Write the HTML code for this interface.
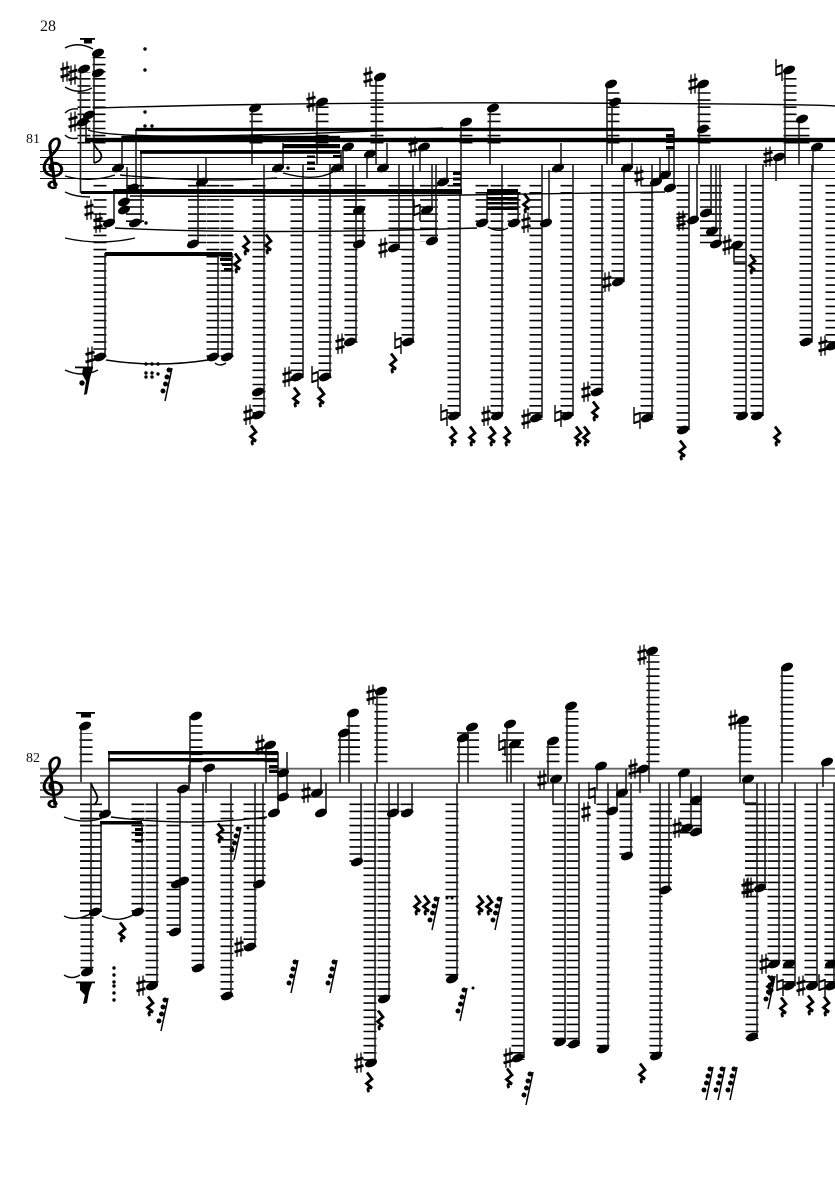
<!DOCTYPE html>
<html><head><meta charset="utf-8"><style>
html,body{margin:0;padding:0;background:#fff;width:835px;height:1181px;overflow:hidden}
svg{display:block}
.st{fill:none;stroke:#222;stroke-width:1.6}
.l,.w,.m{fill:none;stroke:#000;stroke-dasharray:1.6 5.5}
.l{stroke-width:13}.w{stroke-width:22}.m{stroke-width:18}
.sl{fill:none;stroke:#000;stroke-width:1.4}
text{font-family:"Liberation Serif",serif;fill:#111}
</style></head><body>
<svg width="835" height="1181" viewBox="0 0 835 1181" xmlns="http://www.w3.org/2000/svg">
<defs>
<ellipse id="n" cx="0" cy="0" rx="6.3" ry="3.9" transform="rotate(-22)" fill="#000"/>
<g id="s" stroke="#000" fill="none"><path d="M-2-9.500V10M2-10.500V9.500" stroke-width="1.3"/><path d="M-4.500-2.500L4.500-5M-4.500 5L4.500 2.500" stroke-width="2.800"/></g>
<g id="h" stroke="#000" fill="none"><path d="M-3-11V6M3-6V11" stroke-width="1.400"/><path d="M-3-3L3-5M-3 5L3 3" stroke-width="2.200"/></g>
<path id="r" d="M-2-9.500L3-3L-2.500 1.500L3 6C-1 5-2 7 0 10" fill="none" stroke="#000" stroke-width="2.800"/>
<g id="g" fill="#000"><path d="M0 0L-7 33" stroke="#000" stroke-width="1.500"/><circle cx="-3" cy="2" r="2.500"/><circle cx="-5" cy="9" r="2.500"/><circle cx="-6.500" cy="16" r="2.500"/><circle cx="-9" cy="23" r="2.500"/></g>
<path id="c" d="M11 49C7 52 3 47 7 44C10 43 12 47 10 48M10 48L6 8C6 3 11-2 13 2C15 9 8 16 4 22C0 28 1 37 9 38C17 38 17 26 10 25C5 25 5 32 9 34" fill="none" stroke="#000" stroke-width="2.400"/>
</defs>
<text x="40" y="31" font-size="16">28</text>
<text x="26" y="143" font-size="14">81</text>
<text x="26" y="762" font-size="14">82</text>
<!-- staves -->
<path d="M40 150.500H835M40 157.500H835M40 164.500H835M40 171.500H835M40 178.500H835" stroke="#111" stroke-width="1.100" fill="none"/>
<path d="M40 768.700H835M40 775.800H835M40 782.900H835M40 790H835M40 797.100H835" stroke="#666" stroke-width="1.900" fill="none"/>
<use href="#c" transform="translate(42,138) scale(1.300,1)"/><use href="#c" transform="translate(42,757) scale(1.300,1)"/>
<!-- ledgers system 1 -->
<path class="l" d="M100 184.900V359M213 184.900V359M227 184.900V359M259 184.900V417M297 184.900V379M325 184.900V379M351 184.900V344M395 184.900V250M408 184.900V344M454 184.900V418M482 184.900V225M497 184.900V418M514 184.900V225M536 184.900V420M567 184.900V418M597 184.900V394M618 184.900V284M647 184.900V420M683 184.900V432M740 184.900V418M757 184.900V418M806 184.900V344M832 184.900V348
M84 143.500V72M99 143.500V57M256 143.500V112M322 143.500V106M377 143.500V81M466 143.500V126M494 143.500V112M613 143.500V88M704 143.500V88M790 143.500V74M803 143.500V123"/>
<path class="m" d="M135 184.900V225M197 184.900V246M429 184.900V242"/>
<path class="w" d="M354.500 184.900V246M711 184.900V246"/>
<!-- ledgers system 2 -->
<path class="l" d="M87 803.500V974M138 803.500V914M152 803.500V988M173 803.500V934M198 803.500V970M227 803.500V998M250 803.500V949M259 803.500V886M356 803.500V864M370 803.500V1065M384 803.500V1001M393 803.500V815M407 803.500V815M452 803.500V981M518 803.500V1060M559 803.500V1044M573 803.500V1046M603 803.500V1051M626 803.500V858M656 803.500V1058M752 803.500V1039M774 803.500V966M789 803.500V988M811 803.500V988M831 803.500V988
M86 762.200V733M196 762.200V723M271 762.200V750M353 762.200V720M381 762.200V695M553 762.200V745M572 762.200V710M653 762.200V655M745 762.200V725M787 762.200V672"/>
<path class="w" d="M91 803.500V914M661 803.500V892M691 803.500V834M756 803.500V890M349 762.200V733M468 762.200V732M513 762.200V728"/>
<!-- stems -->
<path class="st" d="M105 253V355M218 253V355M232 253V355M136 129V188M141 152V223M122 136V168M127 167V200M114 190V223M80.500 73V193M86 118V141M94 53V163M198 165V244M206 158V182M252 108V164M264 165V413M283 143V168M303 165V377M330 165V377M317 102V164M376 77V164M343 147V171M341 150V168M367 154V178M387 143V168M420 147V171M447 158V182M432 165V210M436 165V241M461 122V192M490 108V164M561 143V168M356 165V342M363 210V244M399 165V248M413 165V342M460 192V416M487 193V223M502 165V416M518 193V223M549 170V223M542 165V418M573 165V416M602 165V392M624 165V282M652 165V418M689 165V430M632 143V168M660 158V182M669 150V175M674 129V188M607 84V164M612 102V164M697 165V220M711 165V213M716 165V231M720 165V244M699 84V164M734 245V262H746M746 165V416M763 165V416M785 70V164M799 119V164M813 147V171M776 157V181M812 165V342
M81 726V782M109 752V814M91 783V972M101 823V912M142 823V910M157 783V986M189 765V789M190 716V783M180 790V932M203 782V968M206 768V793M231 783V996M255 783V947M263 783V884M266 745V783M287 752V797M278 752V813M321 769V793M326 783V813M340 733V783M349 713V783M361 783V862M375 783V1063M389 783V999M398 783V813M412 783V813M377 691V783M459 738V783M468 727V783M457 783V979M507 724V783M511 744V783M524 783V1058M548 741V783M553 779V804H565M565 783V1042M567 706V783M579 783V1044M597 766V790M608 783V1049M617 783V811M626 769V793M631 783V856M640 769V793M649 651V783M660 783V1056M669 783V890M680 773V798M691 783V828M701 776V832M740 720V783M744 779V803H756M757 783V1037M765 783V888M782 667V783M779 783V964M795 783V986M817 783V986M823 762V787M834 783V986"/>
<!-- flags -->
<path d="M94 144C96 150 103 152 101 158C100 161 97 162 94 163M91 783C93 790 99 795 97 801C96 803 95 804 94 805" fill="none" stroke="#000" stroke-width="1.800"/>
<!-- beams -->
<g fill="#000">
<rect x="136" y="127.800" width="538" height="3.400"/>
<rect x="85" y="137.800" width="750" height="4.400"/>
<rect x="122" y="135.800" width="218" height="3.500"/>
<rect x="140" y="150" width="200" height="3.800"/>
<rect x="283" y="144" width="57" height="4.200"/>
<rect x="81" y="191" width="32" height="3"/>
<rect x="113" y="189" width="349" height="5"/>
<rect x="487" y="189" width="31" height="5.500"/>
<rect x="487" y="197" width="31" height="3.500"/>
<rect x="487" y="202" width="31" height="2.500"/>
<rect x="487" y="206.500" width="31" height="3.500"/>
<rect x="307" y="155.500" width="8" height="2.500"/><rect x="307" y="161.500" width="8" height="2.500"/><rect x="307" y="167.500" width="8" height="2.500"/>
<rect x="333" y="155" width="8" height="3"/>
<rect x="453" y="172" width="8" height="3"/><rect x="453" y="177.500" width="8" height="3"/><rect x="453" y="183" width="8" height="3"/>
<rect x="666" y="134" width="8" height="3.500"/><rect x="666" y="140" width="8" height="3"/><rect x="666" y="146" width="8" height="3.500"/>
<rect x="105" y="252" width="127" height="4"/>
<rect x="220" y="258" width="12" height="3"/><rect x="222" y="263" width="10" height="3"/><rect x="224" y="268" width="8" height="3.500"/>
<rect x="80" y="38" width="15" height="1.800"/><rect x="84" y="39" width="8" height="4.500"/>
<rect x="76" y="712" width="19" height="1.800"/><rect x="81" y="713" width="10" height="4.500"/>
<rect x="108" y="751" width="170" height="3.500"/>
<rect x="108" y="758" width="170" height="3.500"/>
<rect x="269" y="765" width="9" height="3"/><rect x="269" y="770" width="9" height="3"/>
<rect x="100" y="821" width="42" height="3.500"/>
<rect x="135" y="828" width="8" height="3"/><rect x="135" y="833" width="8" height="3"/><rect x="135" y="839" width="8" height="3.500"/>
<rect x="76" y="981.500" width="19" height="1.800"/><path d="M80 983H92L89 992L87 1003L83 1004L85 995L80 990Z"/>
<path d="M83 368H93L90 378L87 394L84 395L86 381L82 374Z"/><rect x="75" y="366.500" width="18" height="1.800"/>
<circle cx="82" cy="383" r="2.700"/>
<!-- dots -->
<circle cx="145" cy="49" r="1.700"/><circle cx="145" cy="70" r="1.700"/><circle cx="145" cy="112" r="1.700"/><circle cx="145" cy="126" r="1.700"/><circle cx="152" cy="126" r="1.700"/>
<circle cx="288" cy="168" r="1.700"/><circle cx="146" cy="223" r="1.700"/>
<circle cx="146" cy="364" r="1.700"/><circle cx="152" cy="364" r="1.700"/><circle cx="158" cy="364" r="1.700"/>
<circle cx="146" cy="373" r="1.700"/><circle cx="146" cy="377" r="1.700"/><circle cx="152" cy="373" r="1.700"/><circle cx="152" cy="377" r="1.700"/><circle cx="158" cy="374" r="1.700"/>
<circle cx="114" cy="968" r="1.700"/><circle cx="114" cy="975" r="1.700"/><circle cx="114" cy="982" r="1.700"/><circle cx="114" cy="986" r="1.700"/><circle cx="114" cy="993" r="1.700"/><circle cx="114" cy="1000" r="1.700"/>
<circle cx="248" cy="828" r="1.500"/><circle cx="473" cy="988" r="1.500"/><circle cx="447" cy="898" r="1.500"/><circle cx="452" cy="898" r="1.500"/>
</g>
<!-- slurs -->
<path class="sl" d="M65 48Q78 41 93 49M65 87Q78 95 92 88M65 113Q70 108 78 109M65 135Q70 140 78 138M93 108Q300 102 560 103T835 106M88 130Q110 137 200 136T443 128M65 176Q90 183 115 175M120 175Q200 183 277 178M283 173Q315 182 333 172M65 192Q75 197 90 197M130 196Q300 197 463 195T665 192M115 228Q250 235 477 228M65 238Q100 246 135 238M488 227Q498 233 508 228M106 360Q157 368 208 360M215 363Q220 367 226 363M65 370Q82 378 98 370
M64 817Q82 824 100 819M111 817Q190 827 267 817M64 916Q76 922 92 913M102 916Q118 923 133 915M64 975Q72 980 80 975"/>
<!-- notes system 1 -->
<use href="#n" x="84" y="69"/><use href="#n" x="83" y="122"/><use href="#n" x="89" y="115"/><use href="#n" x="98" y="53"/><use href="#n" x="98" y="73"/>
<use href="#n" x="118" y="168"/><use href="#n" x="133" y="188"/><use href="#n" x="124" y="202"/><use href="#n" x="124" y="210"/><use href="#n" x="109" y="223"/><use href="#n" x="135" y="223"/>
<use href="#n" x="202" y="182"/><use href="#n" x="193" y="244"/><use href="#n" x="255" y="108"/><use href="#n" x="278" y="168"/>
<use href="#n" x="100" y="357"/><use href="#n" x="213" y="357"/><use href="#n" x="227" y="357"/><use href="#n" x="258" y="392"/><use href="#n" x="258" y="415"/><use href="#n" x="297" y="377"/><use href="#n" x="325" y="377"/>
<use href="#n" x="322" y="102"/><use href="#n" x="380" y="77"/><use href="#n" x="348" y="147"/><use href="#n" x="337" y="168"/><use href="#n" x="370" y="154"/><use href="#n" x="383" y="168"/><use href="#n" x="424" y="147"/><use href="#n" x="443" y="182"/><use href="#n" x="427" y="210"/><use href="#n" x="432" y="241"/><use href="#n" x="466" y="122"/><use href="#n" x="493" y="108"/><use href="#n" x="558" y="168"/>
<use href="#n" x="359" y="210"/><use href="#n" x="359" y="244"/><use href="#n" x="394" y="248"/><use href="#n" x="350" y="342"/><use href="#n" x="408" y="342"/><use href="#n" x="454" y="416"/><use href="#n" x="497" y="416"/><use href="#n" x="536" y="418"/><use href="#n" x="567" y="416"/><use href="#n" x="597" y="392"/>
<use href="#n" x="482" y="223"/><use href="#n" x="514" y="223"/><use href="#n" x="546" y="223"/><use href="#n" x="618" y="282"/><use href="#n" x="647" y="418"/><use href="#n" x="683" y="430"/><use href="#n" x="742" y="416"/><use href="#n" x="757" y="416"/><use href="#n" x="806" y="342"/><use href="#n" x="832" y="346"/>
<use href="#n" x="611" y="84"/><use href="#n" x="615" y="102"/><use href="#n" x="627" y="168"/><use href="#n" x="656" y="182"/><use href="#n" x="665" y="175"/><use href="#n" x="670" y="188"/><use href="#n" x="693" y="220"/><use href="#n" x="706" y="213"/><use href="#n" x="712" y="231"/><use href="#n" x="716" y="244"/><use href="#n" x="703" y="84"/><use href="#n" x="703" y="129"/><use href="#n" x="737" y="245"/><use href="#n" x="789" y="70"/><use href="#n" x="802" y="119"/><use href="#n" x="817" y="147"/><use href="#n" x="779" y="157"/>
<!-- notes system 2 -->
<use href="#n" x="85" y="726"/><use href="#n" x="105" y="814"/><use href="#n" x="87" y="972"/><use href="#n" x="95" y="912"/><use href="#n" x="138" y="912"/><use href="#n" x="152" y="986"/><use href="#n" x="183" y="789"/><use href="#n" x="177" y="884"/><use href="#n" x="183" y="881"/><use href="#n" x="175" y="932"/><use href="#n" x="198" y="968"/><use href="#n" x="196" y="716"/><use href="#n" x="209" y="768"/><use href="#n" x="227" y="996"/><use href="#n" x="250" y="947"/><use href="#n" x="259" y="884"/><use href="#n" x="270" y="745"/><use href="#n" x="283" y="773"/><use href="#n" x="283" y="797"/><use href="#n" x="274" y="813"/>
<use href="#n" x="317" y="793"/><use href="#n" x="321" y="813"/><use href="#n" x="344" y="733"/><use href="#n" x="353" y="713"/><use href="#n" x="357" y="862"/><use href="#n" x="371" y="1063"/><use href="#n" x="384" y="999"/><use href="#n" x="393" y="813"/><use href="#n" x="407" y="813"/><use href="#n" x="381" y="691"/><use href="#n" x="463" y="738"/><use href="#n" x="472" y="727"/><use href="#n" x="452" y="979"/><use href="#n" x="510" y="724"/><use href="#n" x="515" y="744"/><use href="#n" x="518" y="1058"/><use href="#n" x="553" y="741"/><use href="#n" x="556" y="779"/><use href="#n" x="571" y="706"/>
<use href="#n" x="560" y="1042"/><use href="#n" x="574" y="1044"/><use href="#n" x="603" y="1049"/><use href="#n" x="601" y="766"/><use href="#n" x="612" y="811"/><use href="#n" x="622" y="793"/><use href="#n" x="627" y="856"/><use href="#n" x="643" y="769"/><use href="#n" x="652" y="651"/><use href="#n" x="656" y="1056"/><use href="#n" x="665" y="890"/><use href="#n" x="684" y="773"/><use href="#n" x="696" y="800"/><use href="#n" x="687" y="828"/><use href="#n" x="696" y="832"/><use href="#n" x="743" y="720"/><use href="#n" x="748" y="779"/><use href="#n" x="752" y="1037"/><use href="#n" x="760" y="888"/><use href="#n" x="787" y="667"/><use href="#n" x="774" y="964"/><use href="#n" x="789" y="964"/><use href="#n" x="789" y="986"/><use href="#n" x="812" y="986"/><use href="#n" x="831" y="964"/><use href="#n" x="831" y="986"/><use href="#n" x="827" y="762"/>
<!-- sharps -->
<use href="#s" x="65" y="72"/><use href="#s" x="73" y="75"/><use href="#s" x="73" y="122"/><use href="#s" x="89" y="210"/><use href="#s" x="98" y="223"/><use href="#s" x="90" y="357"/><use href="#s" x="248" y="415"/><use href="#s" x="287" y="377"/><use href="#s" x="311" y="102"/><use href="#s" x="368" y="77"/><use href="#s" x="413" y="147"/><use href="#s" x="383" y="248"/><use href="#s" x="340" y="344"/><use href="#s" x="486" y="416"/><use href="#s" x="526" y="419"/><use href="#s" x="586" y="392"/><use href="#s" x="526" y="223"/><use href="#s" x="607" y="282"/><use href="#s" x="639" y="176"/><use href="#s" x="681" y="221"/><use href="#s" x="693" y="84"/><use href="#s" x="727" y="245"/><use href="#s" x="768" y="157"/><use href="#s" x="823" y="346"/>
<use href="#s" x="141" y="986"/><use href="#s" x="239" y="947"/><use href="#s" x="260" y="745"/><use href="#s" x="306" y="793"/><use href="#s" x="359" y="1063"/><use href="#s" x="371" y="695"/><use href="#s" x="508" y="1058"/><use href="#s" x="542" y="780"/><use href="#s" x="586" y="812"/><use href="#s" x="633" y="769"/><use href="#s" x="642" y="655"/><use href="#s" x="677" y="828"/><use href="#s" x="733" y="720"/><use href="#s" x="749" y="888"/><use href="#s" x="746" y="888"/><use href="#s" x="764" y="964"/><use href="#s" x="801" y="986"/>
<!-- naturals -->
<use href="#h" x="417" y="210"/><use href="#h" x="398" y="343"/><use href="#h" x="444" y="415"/><use href="#h" x="558" y="416"/><use href="#h" x="637" y="418"/><use href="#h" x="315" y="377"/><use href="#h" x="779" y="70"/>
<use href="#h" x="502" y="745"/><use href="#h" x="592" y="793"/><use href="#h" x="780" y="985"/><use href="#h" x="822" y="985"/>
<!-- rests -->
<use href="#r" x="237" y="263"/><use href="#r" x="246" y="245"/><use href="#r" x="268" y="244"/><use href="#r" x="253" y="435"/><use href="#r" x="296" y="397"/><use href="#r" x="321" y="397"/><use href="#r" x="393" y="363"/><use href="#r" x="453" y="436"/><use href="#r" x="472" y="436"/><use href="#r" x="492" y="436"/><use href="#r" x="507" y="436"/><use href="#r" x="578" y="436"/><use href="#r" x="586" y="436"/><use href="#r" x="595" y="411"/><use href="#r" x="526" y="203"/><use href="#r" x="682" y="450"/><use href="#r" x="752" y="264"/><use href="#r" x="777" y="436"/>
<use href="#r" x="122" y="932"/><use href="#r" x="150" y="1006"/><use href="#r" x="220" y="833"/><use href="#r" x="369" y="1082"/><use href="#r" x="380" y="1020"/><use href="#r" x="417" y="905"/><use href="#r" x="426" y="905"/><use href="#r" x="480" y="905"/><use href="#r" x="489" y="905"/><use href="#r" x="509" y="1078"/><use href="#r" x="642" y="1073"/><use href="#r" x="770" y="985"/><use href="#r" x="783" y="1007"/><use href="#r" x="810" y="1005"/><use href="#r" x="826" y="1006"/>
<!-- rest groups -->
<use href="#g" x="172" y="368"/><use href="#g" x="168" y="998"/><use href="#g" x="241" y="827"/><use href="#g" x="298" y="960"/><use href="#g" x="337" y="960"/><use href="#g" x="439" y="897"/><use href="#g" x="502" y="897"/><use href="#g" x="467" y="988"/><use href="#g" x="533" y="1072"/><use href="#g" x="713" y="1067"/><use href="#g" x="725" y="1067"/><use href="#g" x="737" y="1067"/><use href="#g" x="775" y="976"/>
</svg>
</body></html>
